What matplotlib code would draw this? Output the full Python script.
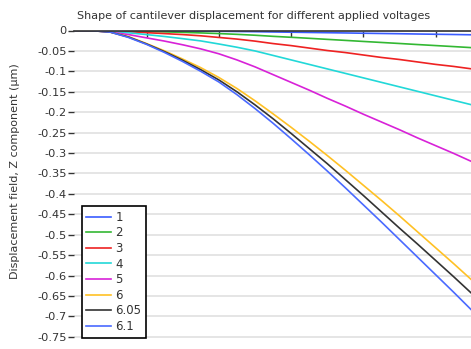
import matplotlib.pyplot as plt

# position along the beam (arb. units) and z displacement (um) per voltage
x_pos = [0, 0.25, 0.5, 0.75, 1.0, 1.25, 1.5, 1.75, 2.0, 2.25, 2.5, 2.75,
         3.0, 3.25, 3.5, 3.75, 4.0, 4.25, 4.5, 4.75, 5.0, 5.25, 5.5]

disp_1 = [0, 0, -0.0001, -0.0003, -0.0006, -0.0009, -0.0011, -0.0015, -0.0019, -0.0024, -0.0029, -0.0036,
          -0.0042, -0.0048, -0.0054, -0.006, -0.0067, -0.0073, -0.0079, -0.0086, -0.0092, -0.0098, -0.0105]
disp_2 = [0, 0, -0.0005, -0.0013, -0.0024, -0.0034, -0.0046, -0.0059, -0.0075, -0.0094, -0.0116, -0.0143,
          -0.0166, -0.0191, -0.0217, -0.0242, -0.0268, -0.0293, -0.0318, -0.0344, -0.0369, -0.0394, -0.042]
disp_3 = [0, -0.0001, -0.0011, -0.003, -0.0053, -0.0076, -0.010, -0.013, -0.017, -0.021, -0.026, -0.032,
          -0.037, -0.043, -0.049, -0.054, -0.060, -0.066, -0.071, -0.077, -0.083, -0.088, -0.094]
disp_4 = [0, -0.0002, -0.002, -0.0056, -0.010, -0.0147, -0.020, -0.0255, -0.033, -0.041, -0.050, -0.061,
          -0.072, -0.083, -0.094, -0.105, -0.116, -0.127, -0.138, -0.149, -0.160, -0.171, -0.182]
disp_5 = [0, -0.0003, -0.004, -0.010, -0.018, -0.026, -0.035, -0.045, -0.057, -0.072, -0.089, -0.108,
          -0.127, -0.146, -0.166, -0.185, -0.205, -0.224, -0.243, -0.263, -0.282, -0.301, -0.321]
disp_6 = [0, -0.0005, -0.004, -0.015, -0.032, -0.050, -0.070, -0.091, -0.115, -0.142, -0.172, -0.204,
          -0.237, -0.271, -0.306, -0.342, -0.379, -0.416, -0.454, -0.493, -0.532, -0.571, -0.611]
disp_605 = [0, -0.0005, -0.004, -0.016, -0.033, -0.052, -0.073, -0.096, -0.121, -0.150, -0.182, -0.216,
            -0.252, -0.289, -0.326, -0.365, -0.404, -0.444, -0.484, -0.523, -0.563, -0.603, -0.644]
disp_61 = [0, -0.0005, -0.004, -0.017, -0.034, -0.054, -0.076, -0.100, -0.126, -0.157, -0.191, -0.227,
           -0.265, -0.304, -0.344, -0.385, -0.427, -0.469, -0.512, -0.555, -0.598, -0.641, -0.685]

labels = ['1', '2', '3', '4', '5', '6', '6.05', '6.1']
series = [disp_1, disp_2, disp_3, disp_4, disp_5, disp_6, disp_605, disp_61]
colors = ['#3a5cff', '#33b833', '#ee2222', '#22d8d8', '#d822d8', '#ffc125', '#333333', '#4a6aff']

y_ticks = [0, -0.05, -0.1, -0.15, -0.2, -0.25, -0.3, -0.35, -0.4, -0.45, -0.5, -0.55, -0.6, -0.65, -0.7, -0.75]
y_tick_labels = ['0', '-0.05', '-0.1', '-0.15', '-0.2', '-0.25', '-0.3', '-0.35', '-0.4', '-0.45',
                 '-0.5', '-0.55', '-0.6', '-0.65', '-0.7', '-0.75']

fig = plt.figure(figsize=(4.71, 3.49), dpi=100)
ax = fig.add_axes([74.3 / 471, 0, (471 - 74.3) / 471, (349 - 30.5) / 349])

for vals, lab, col in zip(series, labels, colors):
    ax.plot(x_pos, vals, color=col, lw=1.2, label=lab)

ax.set_xlim(0, 5.49)
ax.set_ylim(-0.78, 0)

# horizontal grid only
ax.set_yticks(y_ticks)
ax.set_yticklabels(y_tick_labels)
ax.yaxis.grid(True, color='#e3e3e3', lw=1.3)
ax.set_axisbelow(True)

ax.xaxis.tick_top()
ax.set_xticks([1, 2, 3, 4, 5])
ax.tick_params(axis='x', direction='in', length=4, width=1, colors='#333333', labeltop=False)
ax.tick_params(axis='y', direction='out', length=4, width=1, colors='#333333', labelsize=8.2, pad=1.5)

for side in ['left', 'right', 'bottom']:
    ax.spines[side].set_visible(False)
ax.spines['top'].set_color('#333333')
ax.spines['top'].set_linewidth(1.2)

fig.text(254 / 471, 1 - 16 / 349, 'Shape of cantilever displacement for different applied voltages',
         ha='center', va='center', fontsize=8, color='#333333')
fig.text(15 / 471, 1 - 171 / 349, 'Displacement field, Z component (µm)',
         ha='center', va='center', rotation=90, fontsize=8, color='#333333')

leg = ax.legend(loc='lower left', bbox_to_anchor=(81.7 / 471, 1 - 337.7 / 349),
                bbox_transform=fig.transFigure, fontsize=8.5, frameon=True, fancybox=False,
                handlelength=2.1, handletextpad=0.35, labelspacing=0.22, borderpad=0.4,
                borderaxespad=0)
leg.get_frame().set_edgecolor('black')
leg.get_frame().set_linewidth(1.2)
leg.get_frame().set_alpha(1)
for t in leg.get_texts():
    t.set_color('#333333')

plt.savefig('out.png', dpi=100)
